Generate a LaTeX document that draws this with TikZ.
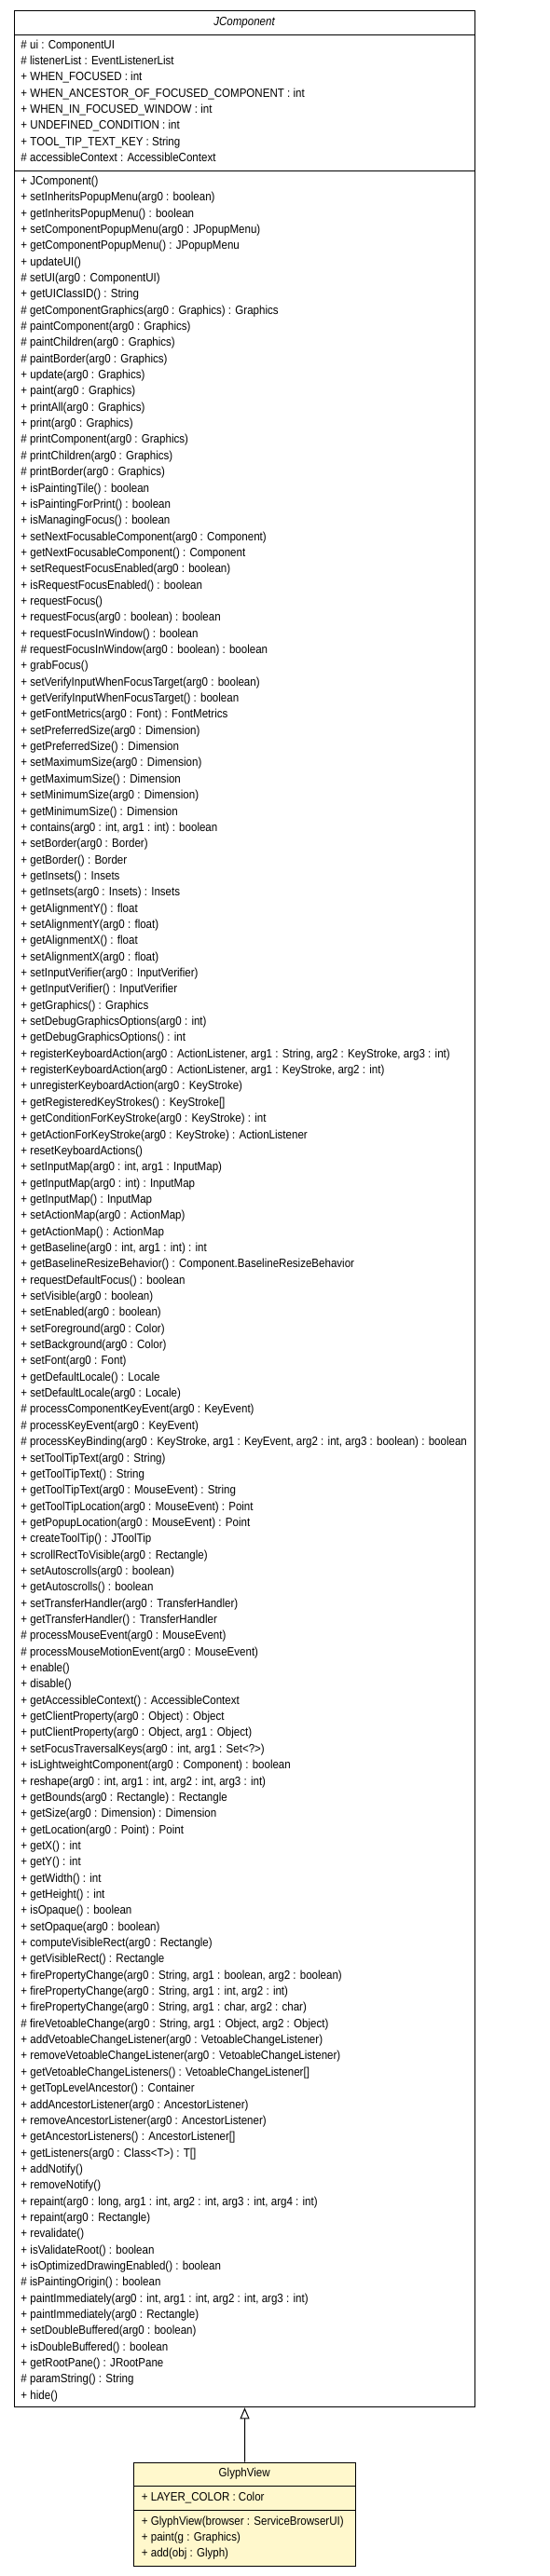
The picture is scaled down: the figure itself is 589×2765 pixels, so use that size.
\documentclass[tikz,border=0pt]{standalone}
\usepackage{fontspec}
\usepackage{graphicx}
\setmainfont{Liberation Sans}
\usetikzlibrary{arrows.meta}
\definecolor{classfill}{HTML}{FFF8CC}
\newcount\secidx
\newcount\allidx
\newlength\reflen
\AtBeginDocument{%
  \settowidth\reflen{\normalfont\fontsize{13}{15}\selectfont + registerKeyboardAction(arg0 : ActionListener, arg1 : String, arg2 : KeyStroke, arg3 : int)}%
  \ifdim\reflen<10pt \reflen=530pt \fi
  \pgfmathsetmacro\hs{460.3/\reflen}%
  \xdef\hs{\hs}%
}
\newcommand\umlsec[3]{\gdef\basey{#1}\gdef\rowx{#2}\gdef\pitch{#3}\global\secidx=0 }
\newcommand\umlrow[1]{\node[ln] (t\the\allidx) at (\rowx,{\basey+\pitch*\the\secidx}) {\scalebox{\hs}[1]{#1}};\global\advance\secidx by 1 \global\advance\allidx by 1 }
\tikzset{
  ln/.style={anchor=west, inner sep=0pt, font=\fontsize{13}{15}\selectfont, text height=9.4pt, text depth=2.7pt},
  classbox/.style={draw=black, line width=1pt, inner sep=0pt, anchor=north west},
  titletext/.style={inner sep=0pt, font=\fontsize{13}{15}\selectfont, text height=9.4pt, text depth=2.7pt},
  sep/.style={draw=black, line width=1pt},
  inherit/.style={draw=black, line width=1pt, -{Triangle[open,length=12pt,width=10pt]}}
}
\begin{document}
\begin{tikzpicture}[x=1pt,y=-1pt]
\useasboundingbox[fill=white] (0,0) rectangle (589,2765);
% JComponent
\node[classbox, minimum width=494pt, minimum height=2572.3pt] (jc) at (15,11) {};
\draw[sep] ([yshift=-26pt]jc.north west) -- ([yshift=-26pt]jc.north east);
\draw[sep] ([yshift=-172pt]jc.north west) -- ([yshift=-172pt]jc.north east);
\node[titletext, font=\fontsize{13}{15}\selectfont\itshape] (jct) at (262,24) {\scalebox{\hs}[1]{JComponent}};
\umlsec{48.7}{22.3}{17.36}
\umlrow{\# ui : ComponentUI}
\umlrow{\# listenerList : EventListenerList}
\umlrow{+ WHEN\_FOCUSED : int}
\umlrow{+ WHEN\_ANCESTOR\_OF\_FOCUSED\_COMPONENT : int}
\umlrow{+ WHEN\_IN\_FOCUSED\_WINDOW : int}
\umlrow{+ UNDEFINED\_CONDITION : int}
\umlrow{+ TOOL\_TIP\_TEXT\_KEY : String}
\umlrow{\# accessibleContext : AccessibleContext}
\umlsec{195}{22.3}{17.35}
\umlrow{+ JComponent()}
\umlrow{+ setInheritsPopupMenu(arg0 : boolean)}
\umlrow{+ getInheritsPopupMenu() : boolean}
\umlrow{+ setComponentPopupMenu(arg0 : JPopupMenu)}
\umlrow{+ getComponentPopupMenu() : JPopupMenu}
\umlrow{+ updateUI()}
\umlrow{\# setUI(arg0 : ComponentUI)}
\umlrow{+ getUIClassID() : String}
\umlrow{\# getComponentGraphics(arg0 : Graphics) : Graphics}
\umlrow{\# paintComponent(arg0 : Graphics)}
\umlrow{\# paintChildren(arg0 : Graphics)}
\umlrow{\# paintBorder(arg0 : Graphics)}
\umlrow{+ update(arg0 : Graphics)}
\umlrow{+ paint(arg0 : Graphics)}
\umlrow{+ printAll(arg0 : Graphics)}
\umlrow{+ print(arg0 : Graphics)}
\umlrow{\# printComponent(arg0 : Graphics)}
\umlrow{\# printChildren(arg0 : Graphics)}
\umlrow{\# printBorder(arg0 : Graphics)}
\umlrow{+ isPaintingTile() : boolean}
\umlrow{+ isPaintingForPrint() : boolean}
\umlrow{+ isManagingFocus() : boolean}
\umlrow{+ setNextFocusableComponent(arg0 : Component)}
\umlrow{+ getNextFocusableComponent() : Component}
\umlrow{+ setRequestFocusEnabled(arg0 : boolean)}
\umlrow{+ isRequestFocusEnabled() : boolean}
\umlrow{+ requestFocus()}
\umlrow{+ requestFocus(arg0 : boolean) : boolean}
\umlrow{+ requestFocusInWindow() : boolean}
\umlrow{\# requestFocusInWindow(arg0 : boolean) : boolean}
\umlrow{+ grabFocus()}
\umlrow{+ setVerifyInputWhenFocusTarget(arg0 : boolean)}
\umlrow{+ getVerifyInputWhenFocusTarget() : boolean}
\umlrow{+ getFontMetrics(arg0 : Font) : FontMetrics}
\umlrow{+ setPreferredSize(arg0 : Dimension)}
\umlrow{+ getPreferredSize() : Dimension}
\umlrow{+ setMaximumSize(arg0 : Dimension)}
\umlrow{+ getMaximumSize() : Dimension}
\umlrow{+ setMinimumSize(arg0 : Dimension)}
\umlrow{+ getMinimumSize() : Dimension}
\umlrow{+ contains(arg0 : int, arg1 : int) : boolean}
\umlrow{+ setBorder(arg0 : Border)}
\umlrow{+ getBorder() : Border}
\umlrow{+ getInsets() : Insets}
\umlrow{+ getInsets(arg0 : Insets) : Insets}
\umlrow{+ getAlignmentY() : float}
\umlrow{+ setAlignmentY(arg0 : float)}
\umlrow{+ getAlignmentX() : float}
\umlrow{+ setAlignmentX(arg0 : float)}
\umlrow{+ setInputVerifier(arg0 : InputVerifier)}
\umlrow{+ getInputVerifier() : InputVerifier}
\umlrow{+ getGraphics() : Graphics}
\umlrow{+ setDebugGraphicsOptions(arg0 : int)}
\umlrow{+ getDebugGraphicsOptions() : int}
\umlrow{+ registerKeyboardAction(arg0 : ActionListener, arg1 : String, arg2 : KeyStroke, arg3 : int)}
\umlrow{+ registerKeyboardAction(arg0 : ActionListener, arg1 : KeyStroke, arg2 : int)}
\umlrow{+ unregisterKeyboardAction(arg0 : KeyStroke)}
\umlrow{+ getRegisteredKeyStrokes() : KeyStroke[]}
\umlrow{+ getConditionForKeyStroke(arg0 : KeyStroke) : int}
\umlrow{+ getActionForKeyStroke(arg0 : KeyStroke) : ActionListener}
\umlrow{+ resetKeyboardActions()}
\umlrow{+ setInputMap(arg0 : int, arg1 : InputMap)}
\umlrow{+ getInputMap(arg0 : int) : InputMap}
\umlrow{+ getInputMap() : InputMap}
\umlrow{+ setActionMap(arg0 : ActionMap)}
\umlrow{+ getActionMap() : ActionMap}
\umlrow{+ getBaseline(arg0 : int, arg1 : int) : int}
\umlrow{+ getBaselineResizeBehavior() : Component.BaselineResizeBehavior}
\umlrow{+ requestDefaultFocus() : boolean}
\umlrow{+ setVisible(arg0 : boolean)}
\umlrow{+ setEnabled(arg0 : boolean)}
\umlrow{+ setForeground(arg0 : Color)}
\umlrow{+ setBackground(arg0 : Color)}
\umlrow{+ setFont(arg0 : Font)}
\umlrow{+ getDefaultLocale() : Locale}
\umlrow{+ setDefaultLocale(arg0 : Locale)}
\umlrow{\# processComponentKeyEvent(arg0 : KeyEvent)}
\umlrow{\# processKeyEvent(arg0 : KeyEvent)}
\umlrow{\# processKeyBinding(arg0 : KeyStroke, arg1 : KeyEvent, arg2 : int, arg3 : boolean) : boolean}
\umlrow{+ setToolTipText(arg0 : String)}
\umlrow{+ getToolTipText() : String}
\umlrow{+ getToolTipText(arg0 : MouseEvent) : String}
\umlrow{+ getToolTipLocation(arg0 : MouseEvent) : Point}
\umlrow{+ getPopupLocation(arg0 : MouseEvent) : Point}
\umlrow{+ createToolTip() : JToolTip}
\umlrow{+ scrollRectToVisible(arg0 : Rectangle)}
\umlrow{+ setAutoscrolls(arg0 : boolean)}
\umlrow{+ getAutoscrolls() : boolean}
\umlrow{+ setTransferHandler(arg0 : TransferHandler)}
\umlrow{+ getTransferHandler() : TransferHandler}
\umlrow{\# processMouseEvent(arg0 : MouseEvent)}
\umlrow{\# processMouseMotionEvent(arg0 : MouseEvent)}
\umlrow{+ enable()}
\umlrow{+ disable()}
\umlrow{+ getAccessibleContext() : AccessibleContext}
\umlrow{+ getClientProperty(arg0 : Object) : Object}
\umlrow{+ putClientProperty(arg0 : Object, arg1 : Object)}
\umlrow{+ setFocusTraversalKeys(arg0 : int, arg1 : Set<?>)}
\umlrow{+ isLightweightComponent(arg0 : Component) : boolean}
\umlrow{+ reshape(arg0 : int, arg1 : int, arg2 : int, arg3 : int)}
\umlrow{+ getBounds(arg0 : Rectangle) : Rectangle}
\umlrow{+ getSize(arg0 : Dimension) : Dimension}
\umlrow{+ getLocation(arg0 : Point) : Point}
\umlrow{+ getX() : int}
\umlrow{+ getY() : int}
\umlrow{+ getWidth() : int}
\umlrow{+ getHeight() : int}
\umlrow{+ isOpaque() : boolean}
\umlrow{+ setOpaque(arg0 : boolean)}
\umlrow{+ computeVisibleRect(arg0 : Rectangle)}
\umlrow{+ getVisibleRect() : Rectangle}
\umlrow{+ firePropertyChange(arg0 : String, arg1 : boolean, arg2 : boolean)}
\umlrow{+ firePropertyChange(arg0 : String, arg1 : int, arg2 : int)}
\umlrow{+ firePropertyChange(arg0 : String, arg1 : char, arg2 : char)}
\umlrow{\# fireVetoableChange(arg0 : String, arg1 : Object, arg2 : Object)}
\umlrow{+ addVetoableChangeListener(arg0 : VetoableChangeListener)}
\umlrow{+ removeVetoableChangeListener(arg0 : VetoableChangeListener)}
\umlrow{+ getVetoableChangeListeners() : VetoableChangeListener[]}
\umlrow{+ getTopLevelAncestor() : Container}
\umlrow{+ addAncestorListener(arg0 : AncestorListener)}
\umlrow{+ removeAncestorListener(arg0 : AncestorListener)}
\umlrow{+ getAncestorListeners() : AncestorListener[]}
\umlrow{+ getListeners(arg0 : Class<T>) : T[]}
\umlrow{+ addNotify()}
\umlrow{+ removeNotify()}
\umlrow{+ repaint(arg0 : long, arg1 : int, arg2 : int, arg3 : int, arg4 : int)}
\umlrow{+ repaint(arg0 : Rectangle)}
\umlrow{+ revalidate()}
\umlrow{+ isValidateRoot() : boolean}
\umlrow{+ isOptimizedDrawingEnabled() : boolean}
\umlrow{\# isPaintingOrigin() : boolean}
\umlrow{+ paintImmediately(arg0 : int, arg1 : int, arg2 : int, arg3 : int)}
\umlrow{+ paintImmediately(arg0 : Rectangle)}
\umlrow{+ setDoubleBuffered(arg0 : boolean)}
\umlrow{+ isDoubleBuffered() : boolean}
\umlrow{+ getRootPane() : JRootPane}
\umlrow{\# paramString() : String}
\umlrow{+ hide()}
% GlyphView
\node[classbox, fill=classfill, minimum width=237.7pt, minimum height=111.6pt] (gv) at (143.3,2642.7) {};
\draw[sep] ([yshift=-25.6pt]gv.north west) -- ([yshift=-25.6pt]gv.north east);
\draw[sep] ([yshift=-51.6pt]gv.north west) -- ([yshift=-51.6pt]gv.north east);
\node[titletext] (gvt) at (262.2,2655.5) {\scalebox{\hs}[1]{GlyphView}};
\umlsec{2680.7}{151.7}{17}
\umlrow{+ LAYER\_COLOR : Color}
\umlsec{2706.7}{151.7}{17}
\umlrow{+ GlyphView(browser : ServiceBrowserUI)}
\umlrow{+ paint(g : Graphics)}
\umlrow{+ add(obj : Glyph)}
% inheritance
\draw[inherit] (gv.north) -- (jc.south);
\end{tikzpicture}
\end{document}
